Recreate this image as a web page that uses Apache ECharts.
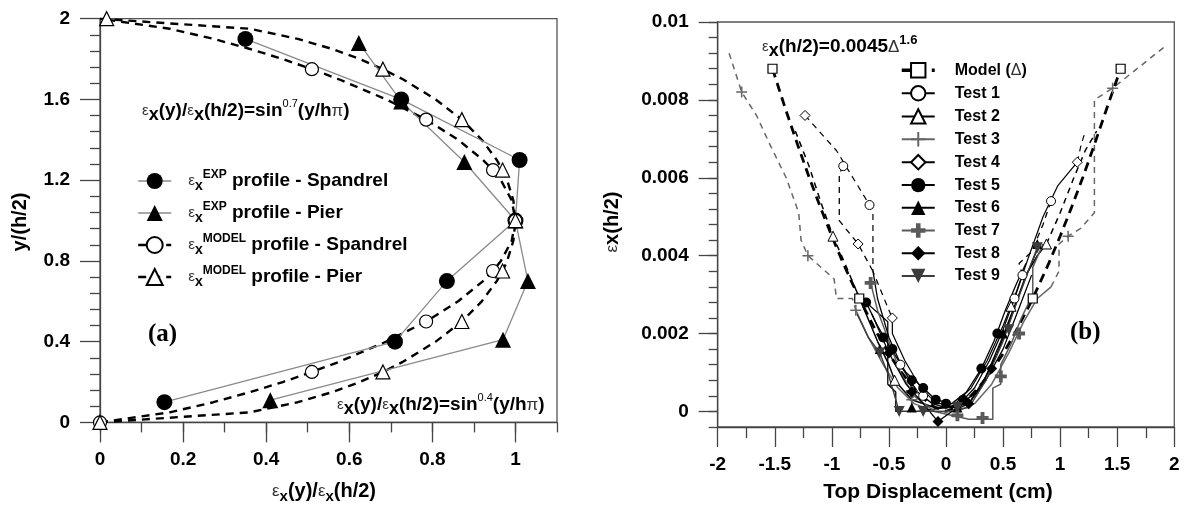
<!DOCTYPE html>
<html><head><meta charset="utf-8">
<script src="https://cdn.jsdelivr.net/npm/echarts@6/dist/echarts.min.js"></script>
<style>html,body{margin:0;padding:0;background:#fff}#c{width:1186px;height:507px}</style>
</head><body><div id="c"></div>
<script>
// ================= Panel (a) data =================
const aXTicks = [0, 0.2, 0.4, 0.6, 0.8, 1];
const expY = [0.1, 0.4, 0.7, 1.0, 1.3, 1.6, 1.9];
const spandrelExpX = [0.155, 0.71, 0.835, 1.0, 1.01, 0.725, 0.35];
const pierExpY = [0.11, 0.41, 0.70, 1.0, 1.29, 1.59, 1.88];
const pierExpX = [0.41, 0.97, 1.03, 1.0, 0.877, 0.725, 0.623];
const spandrelModelY = [0, 0.25, 0.5, 0.75, 1, 1.25, 1.5, 1.75];
const spandrelModelX = [0, 0.51, 0.785, 0.946, 1, 0.946, 0.785, 0.51];
const pierModelY = [0, 0.25, 0.5, 0.75, 1, 1.25, 1.5, 1.75, 2];
const pierModelX = [0, 0.681, 0.871, 0.969, 1, 0.969, 0.871, 0.681, 0.016];
const curveY = [0,0.05,0.1,0.15,0.2,0.25,0.3,0.4,0.5,0.6,0.7,0.75,0.8,0.9,1,1.1,1.2,1.25,1.3,1.4,1.5,1.6,1.7,1.75,1.8,1.85,1.9,1.95,2];
const spandrelCurveX = [0,0.168,0.273,0.361,0.44,0.51,0.575,0.689,0.785,0.862,0.922,0.946,0.965,0.991,1,0.991,0.965,0.946,0.922,0.862,0.785,0.689,0.575,0.51,0.44,0.361,0.273,0.168,0];
const pierCurveX = [0,0.361,0.476,0.559,0.625,0.681,0.729,0.808,0.871,0.919,0.955,0.969,0.98,0.995,1,0.995,0.98,0.969,0.955,0.919,0.871,0.808,0.729,0.681,0.625,0.559,0.476,0.361,0];

// ================= Panel (b) data =================
const bYTicks = [0, 0.002, 0.004, 0.006, 0.008, 0.01];
const modelDisp = [-1.52,-1.4,-1.3,-1.2,-1.1,-1.0,-0.9,-0.76,-0.6,-0.5,-0.4,-0.3,-0.2,-0.1,0,0.1,0.2,0.3,0.4,0.5,0.6,0.76,0.9,1.0,1.1,1.2,1.3,1.4,1.53];
const modelStrain = [0.0088,0.00771,0.00685,0.00602,0.00524,0.0045,0.0038,0.0029,0.00199,0.00148,0.00104,0.00066,0.00034,0.00011,0,0.00011,0.00034,0.00066,0.00104,0.00148,0.00199,0.0029,0.0038,0.0045,0.00524,0.00602,0.00685,0.00771,0.0088];
const modelMarkDisp = [-1.52, -0.76, 0.76, 1.53];
const modelMarkStrain = [0.0088, 0.0029, 0.0029, 0.0088];

const test1Solid = [[-0.64,0.0036],[-0.6,0.0029],[-0.5,0.0019],[-0.38,0.0011],[-0.25,0.0005],[-0.12,0.0002],[0,0.0001],[0.12,0.0002],[0.25,0.0006],[0.38,0.0013],[0.5,0.0021],[0.6,0.0029],[0.67,0.0035]];
const test1DashL = [[-0.9,0.0063],[-0.935,0.0061],[-0.935,0.0049],[-0.77,0.0043],[-0.64,0.0036]];
const test1DashR = [[0.67,0.0035],[0.64,0.0038],[0.75,0.0041],[0.85,0.0048],[0.92,0.0054]];
const test1Marks = [[-0.9,0.0063],[-0.67,0.0053],[-0.4,0.0012],[-0.2,0.0004],[0.6,0.0029],[0.67,0.0035],[0.92,0.0054]];

const test2Solid = [[-0.8,0.0032],[-0.7,0.0025],[-0.6,0.0018],[-0.5,0.0012],[-0.45,0.0008],[-0.3,0.0003],[-0.1,0.0001],[0.1,0.0001],[0.3,0.0006],[0.45,0.0015],[0.58,0.0025],[0.7,0.0035],[0.8,0.004],[0.88,0.0043]];
const test2DashL = [[-1.32,0.0072],[-1.2,0.0063],[-1.1,0.0054],[-0.99,0.0045],[-0.9,0.0039],[-0.8,0.0032]];
const test2DashR = [[0.88,0.0043],[1.0,0.0051],[1.12,0.006],[1.22,0.0067],[1.32,0.0072]];
const test2Marks = [[-0.99,0.0045],[-0.45,0.0008],[0.57,0.0027],[0.88,0.0043]];

const test3Solid = [[-0.79,0.0026],[-0.68,0.0019],[-0.55,0.0012],[-0.42,0.0006],[-0.28,0.0002],[-0.1,0],[0.1,0],[0.25,0.0002],[0.4,0.0007],[0.55,0.0015],[0.68,0.0023],[0.8,0.0029],[0.92,0.0032]];
const test3DashL = [[-1.9,0.0092],[-1.79,0.0082],[-1.66,0.0076],[-1.55,0.0069],[-1.4,0.006],[-1.29,0.0051],[-1.27,0.0044],[-1.21,0.004],[-0.98,0.0034],[-0.96,0.0029],[-0.82,0.0029],[-0.79,0.0026]];
const test3DashR = [[0.92,0.0032],[0.99,0.0036],[0.99,0.0043],[1.07,0.0045],[1.18,0.0047],[1.3,0.0051],[1.3,0.008],[1.46,0.0083],[1.93,0.0094]];
const test3Marks = [[-1.79,0.0082],[-1.21,0.004],[-0.79,0.0026],[-0.3,0.0003],[1.07,0.0045],[1.46,0.0083]];

const test4Solid = [[-0.47,0.0024],[-0.47,0.002],[-0.36,0.0013],[-0.22,0.0006],[-0.08,0.0002],[0.08,0.0002],[0.22,0.0006],[0.36,0.0013],[0.5,0.0022],[0.62,0.0031],[0.74,0.0041],[0.85,0.005],[0.98,0.0058],[1.15,0.0064]];
const test4DashL = [[-1.235,0.0076],[-0.96,0.0067],[-0.67,0.0053],[-0.64,0.0052],[-0.64,0.0036],[-0.5,0.0026],[-0.47,0.0024]];
const test4DashR = [[1.15,0.0064],[1.18,0.0068],[1.21,0.0071]];
const test4Marks = [[-1.235,0.0076],[-0.77,0.0043],[-0.47,0.0024],[1.15,0.0064]];

const test5Solid = [[-0.7,0.0028],[-0.6,0.0022],[-0.48,0.0016],[-0.35,0.001],[-0.2,0.0006],[-0.09,0.0003],[0.05,0.0002],[0.18,0.0005],[0.31,0.0011],[0.42,0.0018],[0.52,0.0026],[0.62,0.0033],[0.7,0.0038]];
const test5Marks = [[-0.7,0.0028],[-0.55,0.0019],[-0.47,0.0016],[-0.3,0.0008],[-0.2,0.0006],[-0.09,0.0003],[0,0.0002],[0.15,0.0003],[0.31,0.0011],[0.45,0.002]];

const test6Solid = [[-0.7,0.0028],[-0.51,0.0023],[-0.51,0.0007],[-0.44,0.0005],[-0.44,0],[-0.25,0],[0,0.0001],[0.2,0.0002],[0.35,0.0009],[0.48,0.0018],[0.6,0.0027],[0.72,0.0036],[0.82,0.0043]];
const test6Marks = [[-0.58,0.0016],[-0.3,0.0001],[0.1,0.0001],[0.5,0.002],[0.8,0.0043]];

const test7Solid = [[-0.66,0.0033],[-0.6,0.0026],[-0.5,0.0018],[-0.4,0.001],[-0.28,0.0004],[-0.1,0],[0.2,-0.0002],[0.41,-0.0002],[0.41,0.0006],[0.48,0.0007],[0.48,0.0012],[0.58,0.0018],[0.66,0.0024],[0.76,0.003],[0.76,0.0037],[0.85,0.0043]];
const test7Marks = [[-0.66,0.0033],[-0.3,0.0005],[0.1,-0.0001],[0.32,-0.00017],[0.48,0.0009],[0.64,0.002]];

const test8Solid = [[-0.65,0.0025],[-0.5,0.0015],[-0.35,0.0007],[-0.2,0.0002],[-0.07,-0.00026],[0.05,0],[0.2,0.0002],[0.35,0.0008],[0.5,0.0016],[0.62,0.0025],[0.75,0.0035]];
const test8Marks = [[-0.07,-0.00026],[-0.5,0.0015],[-0.3,0.0005],[0.2,0.0002],[0.4,0.0011]];

const test9Solid = [[-0.78,0.0025],[-0.68,0.0019],[-0.58,0.0015],[-0.5,0.0009],[-0.41,0],[-0.2,0],[0,0],[0.2,0.0001],[0.35,0.0008],[0.5,0.0018],[0.62,0.0028],[0.72,0.0036],[0.8,0.0042]];
const test9Marks = [[-0.58,0.0015],[-0.41,0],[-0.2,0],[0.1,0.0001],[0.55,0.0021],[0.8,0.0042]];

// ================= build =================
const F = '"Liberation Sans", Arial, sans-serif';
const zip = (xs, ys) => xs.map((x, i) => [x, ys[i]]);
const PLUS = 'path://M4.3,0H5.7V4.3H10V5.7H5.7V10H4.3V5.7H0V4.3H4.3Z';
const PLUS_THICK = 'path://M3.4,0H6.6V3.4H10V6.6H6.6V10H3.4V6.6H0V3.4H3.4Z';
const tickStyle = {color: '#444', width: 1.3};

const series = [];
// panel (a)
series.push({name: 'sMOD', type: 'line', xAxisIndex: 0, yAxisIndex: 0, data: zip(spandrelCurveX, curveY), showSymbol: false, symbol: 'circle',
  itemStyle: {color: '#fff', borderColor: '#000', borderWidth: 1.3}, lineStyle: {color: '#000', width: 2.4, type: [8, 6]}, z: 2});
series.push({name: 'pMOD', type: 'line', xAxisIndex: 0, yAxisIndex: 0, data: zip(pierCurveX, curveY), showSymbol: false, symbol: 'triangle',
  itemStyle: {color: '#fff', borderColor: '#000', borderWidth: 1.3}, lineStyle: {color: '#000', width: 2.4, type: [8, 6]}, z: 2});
series.push({name: 'sEXP', type: 'line', xAxisIndex: 0, yAxisIndex: 0, data: zip(spandrelExpX, expY), symbol: 'circle', symbolSize: 16,
  itemStyle: {color: '#000'}, lineStyle: {color: '#8a8a8a', width: 1.3}, z: 4});
series.push({name: 'pEXP', type: 'line', xAxisIndex: 0, yAxisIndex: 0, data: zip(pierExpX, pierExpY), symbol: 'triangle', symbolSize: 16,
  itemStyle: {color: '#000'}, lineStyle: {color: '#8a8a8a', width: 1.3}, z: 4});
series.push({type: 'scatter', xAxisIndex: 0, yAxisIndex: 0, data: zip(spandrelModelX, spandrelModelY), symbol: 'circle', symbolSize: 13,
  itemStyle: {color: '#fff', borderColor: '#000', borderWidth: 1.2, opacity: 1}, z: 5});
series.push({type: 'scatter', xAxisIndex: 0, yAxisIndex: 0, data: zip(pierModelX, pierModelY), symbol: 'triangle', symbolSize: 14,
  itemStyle: {color: '#fff', borderColor: '#000', borderWidth: 1.2, opacity: 1}, z: 5});

// panel (b)
series.push({name: 'Model (Δ)', type: 'line', xAxisIndex: 1, yAxisIndex: 1, data: zip(modelDisp, modelStrain), showSymbol: false, symbol: 'rect',
  itemStyle: {color: '#fff', borderColor: '#000', borderWidth: 1.2}, lineStyle: {color: '#000', width: 2.8, type: [9, 6]}, z: 3});
series.push({type: 'scatter', xAxisIndex: 1, yAxisIndex: 1, data: zip(modelMarkDisp, modelMarkStrain), symbol: 'rect', symbolSize: 9,
  itemStyle: {color: '#fff', borderColor: '#000', borderWidth: 1.2, opacity: 1}, z: 6});

function addTest(name, solid, dashL, dashR, marks, st) {
  const itemStyle = {color: st.fill, borderColor: st.border || st.fill, borderWidth: st.bw || 0, opacity: 1};
  const base = {type: 'line', xAxisIndex: 1, yAxisIndex: 1, showSymbol: false};
  series.push(Object.assign({}, base, {name, data: solid, symbol: st.symbol, symbolRotate: st.rotate || 0, itemStyle,
    lineStyle: {color: st.color, width: st.width}, z: 3}));
  if (dashL) series.push(Object.assign({}, base, {name: name + '_L', data: dashL, symbol: 'none', itemStyle,
    lineStyle: {color: st.color, width: st.width, type: [6, 5]}, z: 2}));
  if (dashR) series.push(Object.assign({}, base, {name: name + '_R', data: dashR, symbol: 'none', itemStyle,
    lineStyle: {color: st.color, width: st.width, type: [6, 5]}, z: 2}));
  series.push({type: 'scatter', xAxisIndex: 1, yAxisIndex: 1, data: marks, symbol: st.symbol, symbolSize: st.size,
    symbolRotate: st.rotate || 0, itemStyle, z: 5});
}
addTest('Test 1', test1Solid, test1DashL, test1DashR, test1Marks, {symbol: 'circle', size: 9, fill: '#fff', border: '#000', bw: 1, color: '#000', width: 1.3});
addTest('Test 2', test2Solid, test2DashL, test2DashR, test2Marks, {symbol: 'triangle', size: 10, fill: '#fff', border: '#000', bw: 1, color: '#000', width: 1.5});
addTest('Test 3', test3Solid, test3DashL, test3DashR, test3Marks, {symbol: PLUS, size: 11, fill: '#666', color: '#666', width: 1.5});
addTest('Test 4', test4Solid, test4DashL, test4DashR, test4Marks, {symbol: 'diamond', size: 10, fill: '#fff', border: '#000', bw: 1, color: '#000', width: 1.2});
addTest('Test 5', test5Solid, null, null, test5Marks, {symbol: 'circle', size: 10, fill: '#000', color: '#000', width: 1.3});
addTest('Test 6', test6Solid, null, null, test6Marks, {symbol: 'triangle', size: 10, fill: '#000', color: '#000', width: 1.3});
addTest('Test 7', test7Solid, null, null, test7Marks, {symbol: PLUS_THICK, size: 12, fill: '#5a5a5a', color: '#5a5a5a', width: 1.5});
addTest('Test 8', test8Solid, null, null, test8Marks, {symbol: 'diamond', size: 11, fill: '#000', color: '#000', width: 1.3});
addTest('Test 9', test9Solid, null, null, test9Marks, {symbol: 'triangle', rotate: 180, size: 11, fill: '#3c3c3c', color: '#3c3c3c', width: 1.4});

const legendANames = {
  sEXP: '{g| }{e|ε}{s|x}{p|EXP}{t| profile - Spandrel}',
  pEXP: '{g| }{e|ε}{s|x}{p|EXP}{t| profile - Pier}',
  sMOD: '{g| }{e|ε}{s|x}{p|MODEL}{t| profile - Spandrel}',
  pMOD: '{g| }{e|ε}{s|x}{p|MODEL}{t| profile - Pier}'
};

const gRich = {
  e: {fontSize: 15, fontFamily: F, fontWeight: 'normal', fill: '#333', lineHeight: 26, verticalAlign: 'middle'},
  b: {fontSize: 19, fontFamily: F, fontWeight: 'bold', fill: '#000', lineHeight: 26, verticalAlign: 'middle'},
  x: {fontSize: 18, fontFamily: F, fontWeight: 'bold', fill: '#000', lineHeight: 20, verticalAlign: 'bottom'},
  s: {fontSize: 14, fontFamily: F, fontWeight: 'bold', fill: '#000', lineHeight: 12, verticalAlign: 'bottom'},
  p: {fontSize: 11, fontFamily: F, fontWeight: 'normal', fill: '#000', lineHeight: 12, verticalAlign: 'top'},
  pb: {fontSize: 13, fontFamily: F, fontWeight: 'bold', fill: '#000', lineHeight: 12, verticalAlign: 'top'},
  d: {fontSize: 17, fontFamily: F, fontWeight: 'normal', fill: '#333', lineHeight: 26, verticalAlign: 'middle'},
  t20: {fontSize: 20, fontFamily: F, fontWeight: 'bold', fill: '#000', lineHeight: 26, verticalAlign: 'middle'},
  e17: {fontSize: 17, fontFamily: F, fontWeight: 'normal', fill: '#333', lineHeight: 26, verticalAlign: 'middle'},
  s15: {fontSize: 15, fontFamily: F, fontWeight: 'bold', fill: '#000', lineHeight: 14, verticalAlign: 'bottom'}
};
const gText = (x, y, text, align) => ({type: 'text', x, y, silent: true,
  style: {text, rich: gRich, align: align || 'left', verticalAlign: 'middle', fill: '#000', font: 'bold 19px ' + F}});

const option = {
  animation: false,
  backgroundColor: '#fff',
  grid: [
    {left: 100, top: 18.7, right: 629, bottom: 84.6, show: true, borderColor: '#555', borderWidth: 1.3, backgroundColor: 'transparent'},
    {left: 717.7, top: 22, right: 11.7, bottom: 80, show: true, borderColor: '#555', borderWidth: 1.3, backgroundColor: 'transparent'},
    {left: 100, top: 18.7, right: 629, bottom: 84.6},
    {left: 717.7, top: 22, right: 11.7, bottom: 80}
  ],
  xAxis: [
    {type: 'value', gridIndex: 0, min: 0, max: 1.1, axisLine: {onZero: false, lineStyle: tickStyle},
      axisTick: {customValues: aXTicks, length: 20, lineStyle: tickStyle},
      axisLabel: {customValues: aXTicks, margin: 28, color: '#000', fontFamily: F, fontWeight: 'bold', fontSize: 19},
      splitLine: {show: false}},
    {type: 'value', gridIndex: 1, min: -2, max: 2, interval: 0.5, axisLine: {onZero: false, lineStyle: tickStyle},
      axisTick: {length: 20, lineStyle: tickStyle}, minorTick: {show: true, splitNumber: 2, length: 11, lineStyle: tickStyle},
      axisLabel: {margin: 28, color: '#000', fontFamily: F, fontWeight: 'bold', fontSize: 19, showMinLabel: true, showMaxLabel: true},
      splitLine: {show: false}, minorSplitLine: {show: false}},
    {type: 'value', gridIndex: 2, min: 0, max: 1.1, interval: 0.1, axisLine: {show: false, onZero: false},
      axisTick: {length: 10, lineStyle: tickStyle}, axisLabel: {show: false}, splitLine: {show: false}},
    {type: 'value', gridIndex: 3, min: -2, max: 2, show: false}
  ],
  yAxis: [
    {type: 'value', gridIndex: 0, min: 0, max: 2, interval: 0.4, axisLine: {onZero: false, lineStyle: tickStyle},
      axisTick: {length: 20, lineStyle: tickStyle}, minorTick: {show: true, splitNumber: 5, length: 10, lineStyle: tickStyle},
      axisLabel: {margin: 30, color: '#000', fontFamily: F, fontWeight: 'bold', fontSize: 19, showMinLabel: true, showMaxLabel: true},
      splitLine: {show: false}, minorSplitLine: {show: false}},
    {type: 'value', gridIndex: 1, min: -0.0004, max: 0.01, interval: 0.0004, axisLine: {onZero: false, lineStyle: tickStyle},
      axisTick: {length: 9, lineStyle: tickStyle},
      axisLabel: {customValues: bYTicks, margin: 29, color: '#000', fontFamily: F, fontWeight: 'bold', fontSize: 19,
        formatter: v => String(+(+v).toFixed(4))},
      splitLine: {show: false}},
    {type: 'value', gridIndex: 2, min: 0, max: 2, show: false},
    {type: 'value', gridIndex: 3, min: -0.0004, max: 0.01, axisLine: {show: false, onZero: false},
      axisTick: {customValues: bYTicks, length: 19, lineStyle: tickStyle}, axisLabel: {show: false}, splitLine: {show: false}}
  ],
  legend: [
    {data: [{name: 'sEXP', lineStyle: {width: 1.3}}, {name: 'pEXP', lineStyle: {width: 1.3}}, {name: 'sMOD', lineStyle: {width: 2.4}}, {name: 'pMOD', lineStyle: {width: 2.4}}],
      orient: 'vertical', left: 137, top: 169, itemWidth: 33, itemHeight: 20, itemGap: 8, padding: 0, selectedMode: false,
      formatter: n => legendANames[n],
      textStyle: {fontFamily: F, fontSize: 19, fontWeight: 'bold', color: '#000', rich: {
        g: {width: 12},
        e: {fontSize: 15, fontWeight: 'normal', color: '#333', fontFamily: F, lineHeight: 24, verticalAlign: 'middle'},
        s: {fontSize: 14, fontWeight: 'bold', color: '#000', fontFamily: F, lineHeight: 12, verticalAlign: 'bottom'},
        p: {fontSize: 12, fontWeight: 'bold', color: '#000', fontFamily: F, lineHeight: 12, verticalAlign: 'top'},
        t: {fontSize: 19, fontWeight: 'bold', color: '#000', fontFamily: F, lineHeight: 24, verticalAlign: 'middle'}
      }}},
    {data: [{name: 'Model (Δ)', lineStyle: {width: 3.5}}, 'Test 1', 'Test 2', 'Test 3', 'Test 4', 'Test 5', 'Test 6', 'Test 7', 'Test 8', 'Test 9'],
      orient: 'vertical', left: 900, top: 62, itemWidth: 33, itemHeight: 18, itemGap: 6.7, padding: 0, selectedMode: false,
      formatter: n => n === 'Model (Δ)' ? '{g| }{t|Model (}{d|Δ}{t|)}' : '{g| }{t|' + n + '}',
      textStyle: {fontFamily: F, fontSize: 16, fontWeight: 'bold', color: '#000', rich: {
        g: {width: 15},
        t: {fontSize: 16, fontWeight: 'bold', color: '#000', fontFamily: F},
        d: {fontSize: 16, fontWeight: 'normal', color: '#333', fontFamily: F}
      }}}
  ],
  graphic: {elements: [
    gText(142, 111, '{e|ε}{x|x}{b|(y)/}{e|ε}{x|x}{b|(h/2)=sin}{p|0.7}{b|(y/h}{d|π}{b|)}'),
    gText(337, 405, '{e|ε}{x|x}{b|(y)/}{e|ε}{x|x}{b|(h/2)=sin}{p|0.4}{b|(y/h}{d|π}{b|)}'),
    gText(762, 47, '{e|ε}{x|x}{b|(h/2)=0.0045}{d|Δ}{pb|1.6}'),
    gText(324, 491, '{e17|ε}{s15|x}{t20|(y)/}{e17|ε}{s15|x}{t20|(h/2)}', 'center'),
    {type: 'text', x: 20, y: 222, rotation: Math.PI / 2, silent: true,
      style: {text: 'y/(h/2)', align: 'center', verticalAlign: 'middle', fill: '#000', font: 'bold 20px ' + F}},
    {type: 'text', x: 938, y: 492, silent: true,
      style: {text: 'Top Displacement (cm)', align: 'center', verticalAlign: 'middle', fill: '#000', font: 'bold 21px ' + F}},
    {type: 'text', x: 612, y: 222, rotation: Math.PI / 2, silent: true,
      style: {text: '{e17|ε}{t20|x(h/2)}', rich: gRich, align: 'center', verticalAlign: 'middle'}},
    {type: 'text', x: 148, y: 335, silent: true,
      style: {text: '(a)', align: 'left', verticalAlign: 'middle', fill: '#000', font: 'bold 25px "Liberation Serif", "Times New Roman", serif'}},
    {type: 'text', x: 1070, y: 333, silent: true,
      style: {text: '(b)', align: 'left', verticalAlign: 'middle', fill: '#000', font: 'bold 25px "Liberation Serif", "Times New Roman", serif'}}
  ]},
  series
};

const chart = echarts.init(document.getElementById('c'), null, {renderer: 'canvas'});
chart.setOption(option);
</script>
</body></html>
